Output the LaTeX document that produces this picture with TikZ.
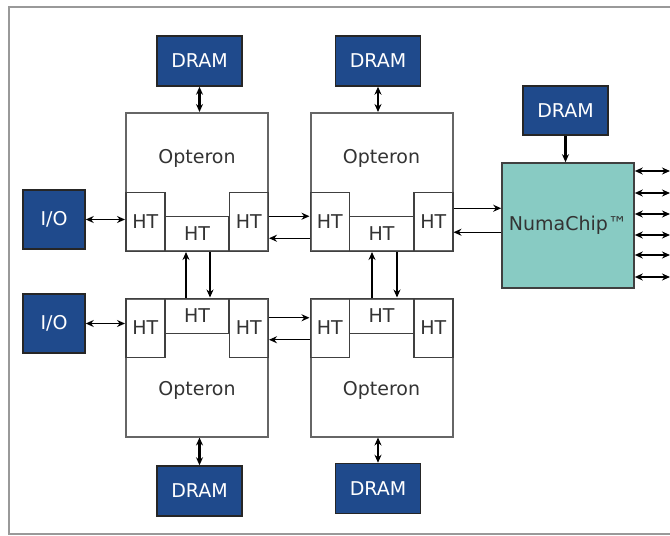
\documentclass[tikz,border=0pt]{standalone}
\usepackage{fontspec}
\setmainfont{DejaVu Sans}
\usetikzlibrary{arrows.meta,calc,positioning}
\definecolor{dramblue}{HTML}{1F4A8C}
\definecolor{numateal}{HTML}{88CBC3}
\definecolor{inkgray}{HTML}{333333}
\tikzset{
	mem/.style={draw=black!85,fill=dramblue,text=white,minimum width=85pt,minimum height=50pt,inner sep=0pt,line width=1.5pt},
	iobox/.style={mem,minimum width=62pt,minimum height=59pt},
	cpu/.style={draw=black!60,line width=2pt,minimum width=142pt,minimum height=138pt,inner sep=0pt},
	htside/.style={draw=black!75,line width=1.5pt,minimum width=39pt,minimum height=59pt,inner sep=0pt,text=inkgray},
	htmid/.style={htside,minimum width=64pt,minimum height=35pt},
	tip/.tip={Stealth[length=8pt,width=7pt]},
	link/.style={-tip,line width=1.3pt},
	dlink/.style={tip-tip,line width=1.3pt},
	memlink/.style={dlink,line width=2.4pt}
}

\begin{document}
\begin{tikzpicture}[x=1pt,y=-1pt,font=\fontsize{19}{22}\selectfont]
	\useasboundingbox (0,0) rectangle (670,536);
	\clip (0,0) rectangle (670,536);
	\draw[black!40,line width=2pt] (690,7) -- (9,7) -- (9,534) -- (690,534);

	% processors
	\node[cpu] (opt1) at (197,182) {};
	\node[cpu] (opt2) at (381.5,182) {};
	\node[cpu] (opt3) at (197,367.5) {};
	\node[cpu] (opt4) at (381.5,367.5) {};
	\node[text=inkgray] (lab1) at (197,158) {Opteron};
	\node[text=inkgray] (lab2) at (381.5,158) {Opteron};
	\node[text=inkgray] (lab3) at (197,390) {Opteron};
	\node[text=inkgray] (lab4) at (381.5,390) {Opteron};

	% HT links
	\node[htside,anchor=south west] (ht1l) at (opt1.south west) {HT};
	\node[htmid,anchor=south] (ht1m) at (opt1.south) {HT};
	\node[htside,anchor=south east] (ht1r) at (opt1.south east) {HT};
	\node[htside,anchor=south west] (ht2l) at (opt2.south west) {HT};
	\node[htmid,anchor=south] (ht2m) at (opt2.south) {HT};
	\node[htside,anchor=south east] (ht2r) at (opt2.south east) {HT};
	\node[htside,anchor=north west] (ht3l) at (opt3.north west) {HT};
	\node[htmid,anchor=north] (ht3m) at (opt3.north) {HT};
	\node[htside,anchor=north east] (ht3r) at (opt3.north east) {HT};
	\node[htside,anchor=north west] (ht4l) at (opt4.north west) {HT};
	\node[htmid,anchor=north] (ht4m) at (opt4.north) {HT};
	\node[htside,anchor=north east] (ht4r) at (opt4.north east) {HT};

	% memory and io
	\node[mem] (mem1) at (199.5,61) {DRAM};
	\node[mem] (mem2) at (378,61) {DRAM};
	\node[mem] (mem3) at (199.5,491) {DRAM};
	\node[mem] (mem4) at (378,488.5) {DRAM};
	\node[mem,minimum height=49pt] (mem5) at (565.5,110.5) {DRAM};
	\node[iobox] (io1) at (54,219.5) {I/O};
	\node[iobox] (io2) at (54,323.5) {I/O};
	\node[draw=black!75,fill=numateal,text=inkgray,line width=1.6pt,minimum width=132pt,minimum height=125pt,inner sep=0pt] (numa) at (568,225.5) {NumaChip™};

	\draw[memlink] (mem1.south) -- (mem1.south |- opt1.north);
	\draw[memlink] (mem2.south) -- (mem2.south |- opt2.north);
	\draw[memlink] (mem3.north) -- (mem3.north |- opt3.south);
	\draw[memlink] (mem4.north) -- (mem4.north |- opt4.south);
	\draw[link,line width=2.4pt] (mem5.south) -- (mem5.south |- numa.north);
	\draw[dlink] (io1.east) -- (io1.east -| ht1l.west);
	\draw[dlink] (io2.east) -- (io2.east -| ht3l.west);

	\draw[link] ([yshift=5.5pt]ht1r.east) -- ([yshift=5.5pt]ht2l.west);
	\draw[link] ([yshift=-16.5pt]ht2l.west) -- ([yshift=-16.5pt]ht1r.east);
	\draw[link] ([yshift=10pt]ht3r.east) -- ([yshift=10pt]ht4l.west);
	\draw[link] ([yshift=-12pt]ht4l.west) -- ([yshift=-12pt]ht3r.east);
	\draw[link] ([xshift=-11pt]ht3m.north) -- ([xshift=-11pt]ht1m.south);
	\draw[link] ([xshift=13pt]ht1m.south) -- ([xshift=13pt]ht3m.north);
	\draw[link] ([xshift=-9.5pt]ht4m.north) -- ([xshift=-9.5pt]ht2m.south);
	\draw[link] ([xshift=15.5pt]ht2m.south) -- ([xshift=15.5pt]ht4m.north);

	\draw[link] ([yshift=13.5pt]ht2r.east) -- ([yshift=13.5pt]ht2r.east -| numa.west);
	\draw[link] ([yshift=-10.5pt]ht2r.east -| numa.west) -- ([yshift=-10.5pt]ht2r.east);

	\foreach \y [count=\i] in {171,193,214,235,255,277}{
		\coordinate (ext\i) at (670,\y);
		\draw[dlink] (numa.east |- ext\i) -- (ext\i);
	}
\end{tikzpicture}
\end{document}
